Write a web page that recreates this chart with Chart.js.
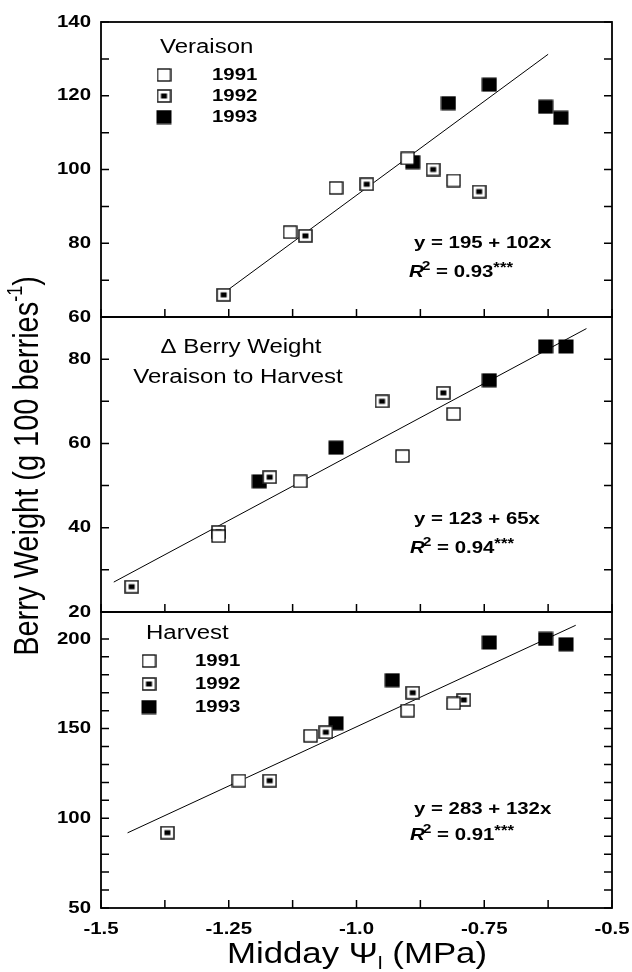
<!DOCTYPE html>
<html><head><meta charset="utf-8">
<script src="https://cdn.jsdelivr.net/npm/chart.js@4.4.0/dist/chart.umd.min.js"></script>
<style>
html,body{margin:0;padding:0;background:#fff;width:632px;height:972px;overflow:hidden;position:relative;}
canvas{position:absolute;left:0;}
</style></head><body>
<canvas id="t" width="632" height="972" style="top:0;width:632px;height:972px"></canvas>
<canvas id="c1" width="632" height="340" style="top:0;width:632px;height:340px"></canvas>
<canvas id="c2" width="632" height="340" style="top:300px;width:632px;height:340px"></canvas>
<canvas id="c3" width="632" height="377" style="top:595px;width:632px;height:377px"></canvas>
<script>
// ---------- data ----------
const years = ['1991', '1992', '1993'];
// Veraison
const v91x = [-1.13, -1.04, -0.90, -0.81];
const v91y = [83, 95, 103, 97];
const v92x = [-1.26, -1.10, -0.98, -0.85, -0.76];
const v92y = [66, 82, 96, 100, 94];
const v93x = [-0.89, -0.82, -0.74, -0.63, -0.60];
const v93y = [102, 118, 123, 117, 114];
const vLineX = [-1.26, -0.625];
const vLineY = [66.5, 131.25];
// Delta berry weight, veraison to harvest
const d91x = [-1.27, -1.11, -0.91, -0.81];
const d91y = [38, 51, 57, 67];
const d92x = [-1.44, -1.27, -1.17, -0.95, -0.83];
const d92y = [26, 39, 52, 70, 72];
const d93x = [-1.19, -1.04, -0.74, -0.63, -0.59];
const d93y = [51, 59, 75, 83, 83];
const dLineX = [-1.475, -0.55];
const dLineY = [27.1, 87.25];
// Harvest
const h91x = [-1.23, -1.09, -0.90, -0.81];
const h91y = [121, 146, 160, 164];
const h92x = [-1.37, -1.17, -1.06, -0.89, -0.79];
const h92y = [92, 121, 148, 170, 166];
const h93x = [-1.04, -0.93, -0.74, -0.63, -0.59];
const h93y = [153, 177, 198, 200, 197];
const hLineX = [-1.448, -0.571];
const hLineY = [91.9, 207.6];
// ticks
const xTickVals = [-1.5, -1.375, -1.25, -1.125, -1.0, -0.875, -0.75, -0.625, -0.5];
const xLabelVals = [-1.5, -1.25, -1.0, -0.75, -0.5];
const xLabelText = ['-1.5', '-1.25', '-1.0', '-0.75', '-0.5'];
const vTickVals = [60, 70, 80, 90, 100, 110, 120, 130, 140];
const vLabelVals = [60, 80, 100, 120, 140];
const dTickVals = [20, 30, 40, 50, 60, 70, 80];
const dLabelVals = [20, 40, 60, 80];
const hTickVals = [50, 60, 70, 80, 90, 100, 110, 120, 130, 140, 150, 160, 170, 180, 190, 200];
const hLabelVals = [50, 100, 150, 200];

// ---------- helpers ----------
const F = '"Liberation Sans", Arial, Helvetica, sans-serif';
const SX = 1.2;
function pts(xs, ys) { return xs.map((x, i) => ({x: x, y: ys[i]})); }
function mk(w, h, draw) { const c = document.createElement('canvas'); c.width = w; c.height = h; draw(c.getContext('2d'), w, h); return c; }
const img91 = mk(15, 14, (g, w, h) => { g.fillStyle = '#fff'; g.fillRect(1, 1, w - 2, h - 2); g.strokeStyle = '#000'; g.lineWidth = 1.3; g.strokeRect(1, 1, w - 2, h - 2); });
const img92 = mk(15, 14, (g, w, h) => { g.fillStyle = '#fff'; g.fillRect(1, 1, w - 2, h - 2); g.strokeStyle = '#222'; g.lineWidth = 1.6; g.strokeRect(1, 1, w - 2, h - 2); g.fillStyle = '#000'; g.fillRect(4.5, 4.5, 6, 5); });
const img93 = mk(16, 15, (g, w, h) => { g.fillStyle = '#000'; g.fillRect(0.5, 0.5, w - 1, h - 1); });
const imgs = [img91, img92, img93];

function txt(ctx, s, x, y, font, align, sx) {
  ctx.save();
  ctx.font = font;
  ctx.textBaseline = 'middle';
  ctx.textAlign = 'left';
  ctx.fillStyle = '#000';
  const w = ctx.measureText(s).width * sx;
  const x0 = align === 'right' ? x - w : (align === 'center' ? x - w / 2 : x);
  ctx.translate(x0, y); ctx.scale(sx, 1);
  ctx.fillText(s, 0, 0);
  ctx.restore();
  return w;
}
function rsq(ctx, x, y, val) {
  let cx = x;
  cx += txt(ctx, 'R', cx, y, 'italic bold 17px ' + F, 'left', SX) - 2;
  cx += txt(ctx, '2', cx, y - 6, 'bold 13px ' + F, 'left', SX);
  cx += txt(ctx, ' = ' + val, cx, y, 'bold 17px ' + F, 'left', SX);
  txt(ctx, '***', cx, y - 4, 'bold 14px ' + F, 'left', SX);
}

function makePanel(id, cfg) {
  const off = cfg.off;
  const frame = {
    id: 'frame_' + id,
    afterDatasetsDraw(chart) {
      const ctx = chart.ctx, a = chart.chartArea, xs = chart.scales.x, ys = chart.scales.y;
      ctx.save();
      ctx.strokeStyle = '#000';
      ctx.lineWidth = 1.5;
      ctx.beginPath();
      cfg.yTicks.forEach(v => {
        const py = ys.getPixelForValue(v);
        ctx.moveTo(a.left, py); ctx.lineTo(a.left + 8, py);
        ctx.moveTo(a.right, py); ctx.lineTo(a.right - 8, py);
      });
      xTickVals.forEach(v => {
        const px = xs.getPixelForValue(v);
        ctx.moveTo(px, a.bottom); ctx.lineTo(px, a.bottom - 8);
      });
      ctx.stroke();
      ctx.lineWidth = 1.8;
      ctx.strokeRect(a.left, a.top, a.right - a.left, a.bottom - a.top);
      ctx.restore();
      cfg.yLabels.forEach(v => {
        txt(ctx, String(v), a.left - 10, ys.getPixelForValue(v), 'bold 17px ' + F, 'right', SX);
      });
      if (cfg.showX) {
        xLabelVals.forEach((v, i) => {
          txt(ctx, xLabelText[i], xs.getPixelForValue(v), a.bottom + 21, 'bold 17px ' + F, 'center', SX);
        });
      }
      cfg.annot(ctx, off);
    }
  };
  return new Chart(document.getElementById(id), {
    type: 'scatter',
    data: {
      datasets: [
        {data: pts(cfg.x91, cfg.y91), pointStyle: img91, pointRadius: 7, order: 1},
        {data: pts(cfg.x92, cfg.y92), pointStyle: img92, pointRadius: 7, order: 1},
        {data: pts(cfg.x93, cfg.y93), pointStyle: img93, pointRadius: 7, order: 1},
        {data: pts(cfg.lx, cfg.ly), showLine: true, borderColor: '#000', borderWidth: 1, pointRadius: 0, order: 10}
      ]
    },
    options: {
      responsive: false, animation: false, devicePixelRatio: 1, events: [],
      layout: {padding: {left: 101, right: 20, top: cfg.top, bottom: cfg.bottom}},
      plugins: {legend: {display: false}, tooltip: {enabled: false}},
      scales: {
        x: {type: 'linear', min: -1.5, max: -0.5, display: false},
        y: {type: 'linear', min: cfg.min, max: cfg.max, display: false}
      }
    },
    plugins: [frame]
  });
}

function legend(ctx, off, title, tx, ty, ix, iy, lx) {
  txt(ctx, title, tx, ty - off, 'normal 20px ' + F, 'left', SX);
  years.forEach((yr, i) => {
    const im = imgs[i];
    ctx.drawImage(im, ix - im.width / 2, iy[i] - off - im.height / 2);
    txt(ctx, yr, lx, iy[i] - off, 'bold 17px ' + F, 'left', SX);
  });
}

makePanel('c1', {
  off: 0, top: 22, bottom: 23, min: 60, max: 140,
  x91: v91x, y91: v91y, x92: v92x, y92: v92y, x93: v93x, y93: v93y, lx: vLineX, ly: vLineY,
  yTicks: vTickVals, yLabels: vLabelVals, showX: false,
  annot(ctx, off) {
    legend(ctx, off, 'Veraison', 160, 47, 164, [75, 96, 117], 212);
    txt(ctx, 'y = 195 + 102x', 414, 243 - off, 'bold 17px ' + F, 'left', SX);
    rsq(ctx, 409, 272 - off, '0.93');
  }
});
makePanel('c2', {
  off: 300, top: 17, bottom: 28, min: 20, max: 90,
  x91: d91x, y91: d91y, x92: d92x, y92: d92y, x93: d93x, y93: d93y, lx: dLineX, ly: dLineY,
  yTicks: dTickVals, yLabels: dLabelVals, showX: false,
  annot(ctx, off) {
    txt(ctx, '\u0394 Berry Weight', 241, 347 - off, 'normal 20px ' + F, 'center', SX);
    txt(ctx, 'Veraison to Harvest', 238, 377 - off, 'normal 20px ' + F, 'center', SX);
    txt(ctx, 'y = 123 + 65x', 414, 519 - off, 'bold 17px ' + F, 'left', SX);
    rsq(ctx, 410, 548 - off, '0.94');
  }
});
makePanel('c3', {
  off: 595, top: 17, bottom: 64, min: 50, max: 215,
  x91: h91x, y91: h91y, x92: h92x, y92: h92y, x93: h93x, y93: h93y, lx: hLineX, ly: hLineY,
  yTicks: hTickVals, yLabels: hLabelVals, showX: true,
  annot(ctx, off) {
    legend(ctx, off, 'Harvest', 146, 633, 149, [661, 684, 707], 195);
    txt(ctx, 'y = 283 + 132x', 414, 809 - off, 'bold 17px ' + F, 'left', SX);
    rsq(ctx, 410, 835 - off, '0.91');
  }
});

// ---------- axis titles ----------
(function () {
  const g = document.getElementById('t').getContext('2d');
  g.fillStyle = '#000';
  g.textBaseline = 'middle';
  function segWidth(segs) {
    let w = 0;
    segs.forEach(s => { g.font = s.f; w += g.measureText(s.t).width; });
    return w;
  }
  function drawSegs(segs, startX) {
    let x = startX;
    segs.forEach(s => { g.font = s.f; g.fillText(s.t, x, s.dy || 0); x += g.measureText(s.t).width; });
  }
  // y title
  const ySegs = [
    {t: 'Berry Weight (g 100 berries', f: 'normal 29px ' + F},
    {t: '-1', f: 'normal 18px ' + F, dy: -10},
    {t: ')', f: 'normal 29px ' + F}
  ];
  g.save();
  g.translate(28, 466); g.scale(1.2, 1); g.rotate(-Math.PI / 2);
  drawSegs(ySegs, -segWidth(ySegs) / 2);
  g.restore();
  // x title
  const xSegs = [
    {t: 'Midday \u03A8', f: 'normal 29px ' + F},
    {t: 'l', f: 'normal 18px ' + F, dy: 9},
    {t: ' (MPa)', f: 'normal 29px ' + F}
  ];
  g.save();
  g.translate(357, 955); g.scale(1.2, 1);
  drawSegs(xSegs, -segWidth(xSegs) / 2);
  g.restore();
})();
</script>
</body></html>
